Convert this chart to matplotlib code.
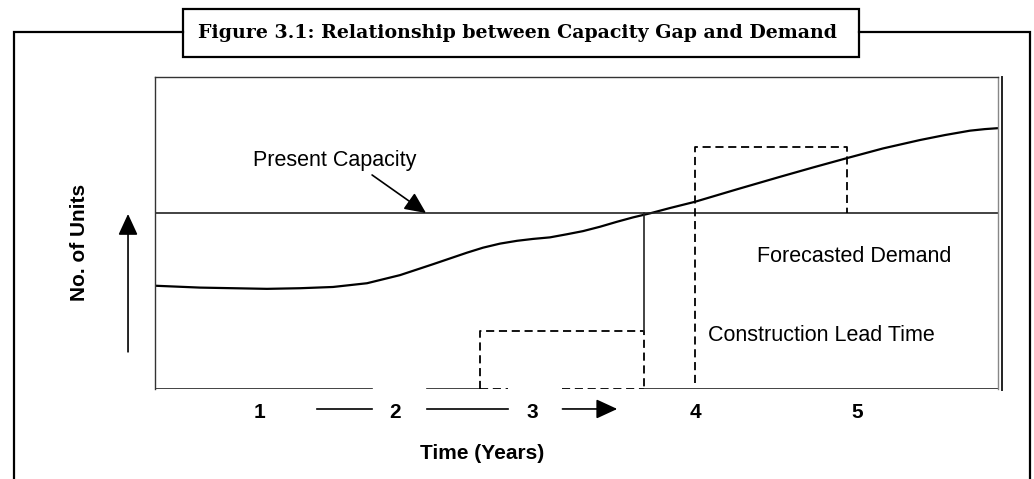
import matplotlib
matplotlib.use("Agg")
import matplotlib.pyplot as plt
from matplotlib.lines import Line2D
from matplotlib.patches import Rectangle

# ---------------- data ----------------
title = "Figure 3.1: Relationship between Capacity Gap and Demand"
demand_x = [0.0, 0.32, 0.797, 1.032, 1.267, 1.509, 1.744, 1.979, 2.221, 2.335,
            2.456, 2.577, 2.69, 2.811, 2.932, 3.046, 3.167, 3.288, 3.402, 3.523,
            3.665, 3.843, 4.142, 4.448, 4.683, 4.925, 5.181, 5.445, 5.623, 5.801,
            5.907, 6.0]
demand_y = [33.1, 32.5, 32.1, 32.3, 32.7, 33.9, 36.5, 40.0, 43.7, 45.3,
            46.6, 47.5, 48.1, 48.6, 49.6, 50.6, 52.0, 53.6, 55.0, 56.3,
            58.0, 60.0, 64.0, 68.0, 71.0, 74.0, 77.1, 79.8, 81.4, 82.8,
            83.3, 83.6]
capacity = 56.4
construction_box = [2.31, 3.48, 18.7]      # x0, x1, top
forecast_box = [3.843, 4.925, 77.6]        # x0, x1, top
tick_pos = [0.747, 1.708, 2.683, 3.843, 4.996]
tick_labels = ["1", "2", "3", "4", "5"]

W, H = 1034, 479
fig = plt.figure(figsize=(W / 100, H / 100), dpi=100)
fig.patch.set_facecolor("white")

# decoration layer in pixel coordinates
deco = fig.add_axes([0, 0, 1, 1])
deco.set_xlim(0, W)
deco.set_ylim(H, 0)
deco.axis("off")

frame_lw = 1.6
deco.plot([14, 14, 183], [H + 5, 32, 32], color="black", lw=frame_lw,
          solid_joinstyle="miter")
deco.plot([859, 1030, 1030], [32, 32, H + 5], color="black", lw=frame_lw,
          solid_joinstyle="miter")
deco.add_patch(Rectangle((183, 9), 859 - 183, 57 - 9, fill=True, facecolor="white",
                         edgecolor="black", lw=frame_lw, joinstyle="miter"))
deco.text(517, 38, title, ha="center", va="baseline", fontsize=13.7,
          fontweight="bold", family="DejaVu Serif")
# double line at right of plot box
deco.plot([1002, 1002], [77, 390], color="#222222", lw=1.4)

# main plot axes
L, R, T, B = 155, 998, 77, 389
ax = fig.add_axes([L / W, (H - B) / H, (R - L) / W, (B - T) / H])
ax.set_xlim(0, 6)
ax.set_ylim(0, 100)
ax.set_xticks([])
ax.set_yticks([])
for s in ["left", "top", "right"]:
    ax.spines[s].set_linewidth(1.0)
    ax.spines[s].set_color("#333333")
ax.spines["right"].set_color("#888888")
ax.spines["bottom"].set_visible(False)

dash = (0, (4.5, 2.6))
dlw = 1.3

# demand curve
ax.plot(demand_x, demand_y, color="black", lw=1.6, solid_capstyle="butt",
        solid_joinstyle="round")
# present capacity line
ax.axhline(capacity, color="#222222", lw=1.2)

# baseline segments
ax.plot([0, 1.545], [0, 0], color="#222222", lw=1.2)
ax.plot([1.936, construction_box[0]], [0, 0], color="#222222", lw=1.2)
ax.plot([construction_box[0], 2.51], [0, 0], color="black", lw=dlw, linestyle=dash)
ax.plot([2.90, construction_box[1]], [0, 0], color="black", lw=dlw, linestyle=dash)
ax.plot([construction_box[1], 6.0], [0, 0], color="#222222", lw=1.2)

# construction lead time box
cx0, cx1, ctop = construction_box
ax.plot([cx0, cx0, cx1, cx1], [0, ctop, ctop, 0], color="black", lw=dlw,
        linestyle=dash)
ax.plot([cx1, cx1], [ctop, capacity], color="#222222", lw=1.2)

# forecast dashed box
fx0, fx1, ftop = forecast_box
ax.plot([fx0, fx0, fx1, fx1], [1.9, ftop, ftop, capacity], color="black", lw=dlw,
        linestyle=dash)

arrow_style = "-|>,head_length=1.3,head_width=0.6"

# labels inside
txt = dict(family="Liberation Sans", fontsize=15.5, color="black")
ax.text(1.281, 71.5, "Present Capacity", ha="center", va="baseline", **txt)
ax.annotate("", xy=(1.929, 56.4), xytext=(1.545, 68.6),
            arrowprops=dict(arrowstyle=arrow_style, color="black", lw=1.2,
                            shrinkA=0, shrinkB=0))
ax.text(4.975, 40.7, "Forecasted Demand", ha="center", va="baseline", **txt)
ax.text(4.74, 15.4, "Construction Lead Time", ha="center", va="baseline", **txt)

# x tick labels row
btxt = dict(family="Liberation Sans", fontsize=15, fontweight="bold", color="black")
for p, lab in zip(tick_pos, tick_labels):
    ax.text(p, -9.3, lab, ha="center", va="baseline", clip_on=False, **btxt)
row_y = -6.4
ax.add_line(Line2D([1.15, 1.545], [row_y, row_y], color="black", lw=1.2, clip_on=False))
ax.add_line(Line2D([1.936, 2.51], [row_y, row_y], color="black", lw=1.2, clip_on=False))
ax.annotate("", xy=(3.29, row_y), xytext=(2.90, row_y), annotation_clip=False,
            arrowprops=dict(arrowstyle=arrow_style, color="black", lw=1.2,
                            shrinkA=0, shrinkB=0))
ax.text(2.327, -22.4, "Time (Years)", ha="center", va="baseline", clip_on=False, **btxt)

# y label and arrow
ax.text(-0.498, 47.1, "No. of Units", rotation=90, rotation_mode="anchor",
        ha="center", va="baseline", clip_on=False, **btxt)
ax.annotate("", xy=(-0.192, 56.1), xytext=(-0.192, 11.9), annotation_clip=False,
            arrowprops=dict(arrowstyle=arrow_style, color="black", lw=1.2,
                            shrinkA=0, shrinkB=0))

fig.savefig("out.png", dpi=100, facecolor="white")
